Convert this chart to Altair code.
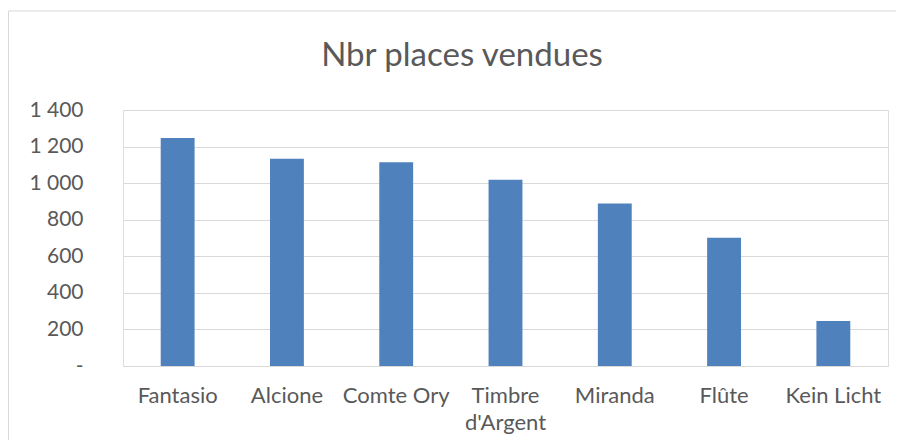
import altair as alt
import pandas as pd

title_text = "Nbr places vendues"
categories = ["Fantasio", "Alcione", "Comte Ory", "Timbre d'Argent", "Miranda", "Flûte", "Kein Licht"]
values = [1247, 1134, 1114, 1019, 888, 702, 246]
y_ticks = [0, 200, 400, 600, 800, 1000, 1200, 1400]

df = pd.DataFrame({"titre": categories, "places": values})

FONT = "Lato"
GREY = "#595959"

bars = alt.Chart(df).mark_bar(color="#4F81BD").encode(
    x=alt.X(
        "titre:N",
        sort=categories,
        scale=alt.Scale(paddingInner=0.69, paddingOuter=0.345),
        axis=alt.Axis(
            title=None,
            labelAngle=0,
            labelFont=FONT,
            labelFontSize=22,
            labelColor=GREY,
            labelPadding=19,
            labelLineHeight=27,
            labelBaseline="top",
            ticks=False,
            domain=False,
            grid=False,
            labelExpr="length(datum.label) > 12 ? split(datum.label, ' ') : datum.label",
        ),
    ),
    y=alt.Y(
        "places:Q",
        scale=alt.Scale(domain=[0, 1400], nice=False),
        axis=alt.Axis(
            title=None,
            values=y_ticks,
            labelFont=FONT,
            labelFontSize=21,
            labelColor=GREY,
            labelPadding=40,
            ticks=False,
            domain=False,
            gridColor="#D9D9D9",
            gridWidth=1.2,
            labelExpr="datum.value == 0 ? '-\u00a0\u00a0' : replace(format(datum.value, ','), ',', ' ')",
        ),
    ),
)

frame_src = alt.Data(values=[{"b": 1}])
border_top = alt.Chart(frame_src).mark_rule(stroke="#D9D9D9", strokeWidth=1).encode(
    x=alt.value(-114.5),
    x2=alt.value(790),
    y=alt.value(-99),
)
border_left = alt.Chart(frame_src).mark_rule(stroke="#D9D9D9", strokeWidth=1).encode(
    x=alt.value(-114.5),
    y=alt.value(-99),
    y2=alt.value(340),
)

title = alt.Chart(alt.Data(values=[{"t": title_text}])).mark_text(
    font=FONT,
    fontSize=33,
    color=GREY,
    align="center",
    baseline="alphabetic",
).encode(
    text="t:N",
    x=alt.value(339),
    y=alt.value(-44),
)

chart = (
    alt.layer(border_top, border_left, bars, title)
    .properties(
        width=765,
        height=256,
        autosize=alt.AutoSizeParams(type="none"),
        padding={"left": 115, "top": 102, "right": 8, "bottom": 74},
    )
    .configure_view(stroke="white", strokeOpacity=0, strokeWidth=0, fill="white")
    .configure_axis(domain=False, ticks=False)
    .configure(background="white")
)

chart.save("out.html", embed_options={"renderer": "svg", "actions": False})
